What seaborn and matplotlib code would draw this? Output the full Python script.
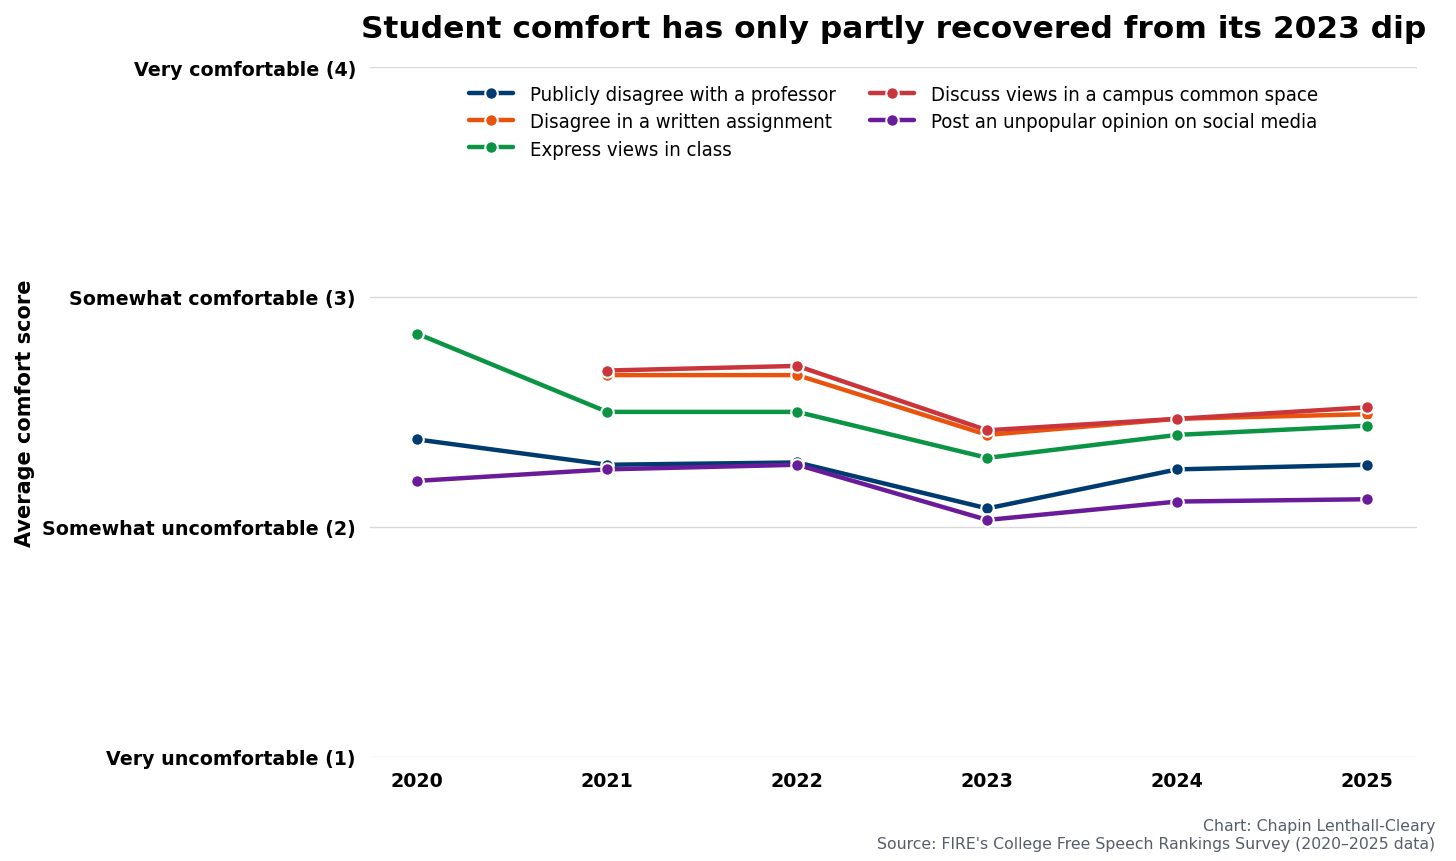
import pandas as pd
import matplotlib
matplotlib.use("Agg")
import matplotlib.pyplot as plt
import seaborn as sns

# Survey years and average comfort scores (1-4 scale)
years = [2020, 2021, 2022, 2023, 2024, 2025]
publicly_disagree = [2.38, 2.27, 2.28, 2.08, 2.25, 2.27]
written_assignment = [None, 2.66, 2.66, 2.40, 2.47, 2.49]
express_in_class = [2.84, 2.50, 2.50, 2.30, 2.40, 2.44]
common_space = [None, 2.68, 2.70, 2.42, 2.47, 2.52]
social_media = [2.20, 2.25, 2.27, 2.03, 2.11, 2.12]

series_names = [
    "Publicly disagree with a professor",
    "Disagree in a written assignment",
    "Express views in class",
    "Discuss views in a campus common space",
    "Post an unpopular opinion on social media",
]
series_values = [publicly_disagree, written_assignment, express_in_class,
                 common_space, social_media]
colors = ["#003b6f", "#e8530e", "#0a9444", "#c9353a", "#6a1b9a"]

tick_values = [1, 2, 3, 4]
tick_labels = ["Very uncomfortable (1)", "Somewhat uncomfortable (2)",
               "Somewhat comfortable (3)", "Very comfortable (4)"]

# Build a long table for seaborn
rows = []
for name, vals in zip(series_names, series_values):
    for yr, v in zip(years, vals):
        if v is not None:
            rows.append({"Year": yr, "Score": v, "Question": name})
df = pd.DataFrame(rows)

sns.set_theme(style="white")
plt.rcParams['font.family'] = ['DejaVu Sans']
plt.rcParams['text.color'] = 'black'
plt.rcParams['axes.labelcolor'] = 'black'
plt.rcParams['xtick.color'] = 'black'
plt.rcParams['ytick.color'] = 'black'

fig, ax = plt.subplots(figsize=(14.56, 8.62), dpi=100)
fig.subplots_adjust(left=0.254, right=0.973, top=0.921, bottom=0.121)

sns.lineplot(data=df, x="Year", y="Score", hue="Question",
             hue_order=series_names, palette=colors, marker="o",
             markersize=9, markeredgecolor="white", markeredgewidth=1.5,
             linewidth=3.2, ax=ax)

ax.set_ylim(1, 4)
ax.set_xlim(2019.75, 2025.26)
ax.set_yticks(tick_values)
ax.set_yticklabels(tick_labels, fontsize=13.7, fontweight="bold")
ax.set_xticks(years)
ax.set_xticklabels([str(y) for y in years], fontsize=13.7, fontweight="bold")
ax.tick_params(axis="both", length=0, pad=10)
ax.yaxis.grid(True, color="#d9d9d9", linewidth=1)
ax.xaxis.grid(False)
for s in ax.spines.values():
    s.set_visible(False)

ax.set_xlabel("")
ax.set_ylabel("Average comfort score", fontsize=15, fontweight="bold")
ax.yaxis.set_label_coords(-0.32, 0.5)

ax.set_title("Student comfort has only partly recovered from its 2023 dip",
             fontsize=22.5, fontweight="bold", pad=22)

leg = ax.legend(loc="upper center", bbox_to_anchor=(0.5, 1.0), ncol=2,
                frameon=False, columnspacing=1.7, handlelength=2.2,
                labelspacing=0.4,
                prop={"family": "DejaVu Sans", "stretch": "condensed", "size": 14.6})

fig.text(0.986, 0.012, "Chart: Chapin Lenthall-Cleary\nSource: FIRE's College Free Speech Rankings Survey (2020\u20132025 data)",
         ha="right", va="bottom", fontsize=11.3, color="#555e6b", linespacing=1.25)

fig.savefig("out.png", dpi=100)
